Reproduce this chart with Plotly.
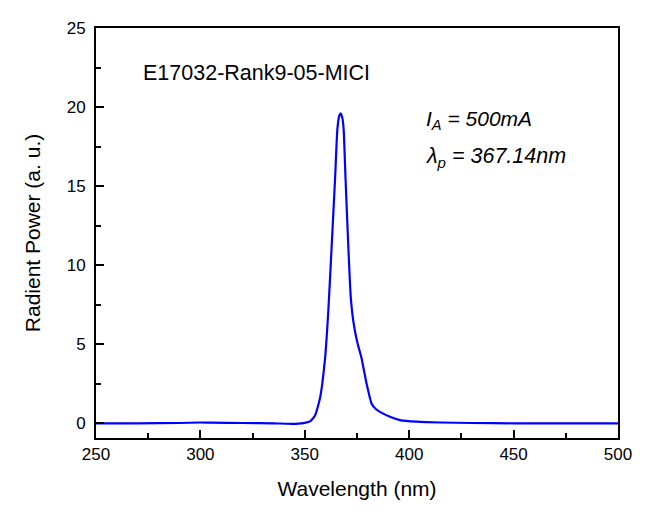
import plotly.graph_objects as go

wavelength = [250, 270, 290, 300, 305, 320, 335, 342, 347, 350, 352.5, 354.9, 357.3, 359.7, 361.3,
              362.9, 364.5, 365.6, 366.5, 367.2, 368.0, 368.6, 369.5, 370.8, 372.0, 373.3, 375.0, 377.2,
              379.6, 382.0, 384.0, 386.0, 390.8, 395.6, 403.6, 415, 430, 450, 475, 500]
power = [0.0, 0.0, 0.02, 0.05, 0.04, 0.02, 0.0, -0.03, -0.02, 0.03, 0.12, 0.5, 1.6, 4.1, 7.2,
         11.3, 15.5, 18.6, 19.45, 19.6, 19.3, 18.6, 15.5, 11.3, 8.0, 6.4, 5.2, 4.1,
         2.5, 1.24, 0.9, 0.72, 0.41, 0.2, 0.1, 0.05, 0.02, 0.0, 0.0, 0.0]

x_ticks = [250, 300, 350, 400, 450, 500]
y_ticks = [0, 5, 10, 15, 20, 25]

fig = go.Figure()
fig.add_trace(go.Scatter(x=wavelength, y=power, mode="lines",
                         line=dict(color="#0000ff", width=2.2, shape="spline", smoothing=0.5),
                         showlegend=False))

font_family = "Liberation Sans, Arial, sans-serif"
axis_common = dict(showline=True, linecolor="black", linewidth=2, mirror=True,
                   ticks="inside", ticklen=8, tickwidth=1.5, tickcolor="black",
                   showgrid=False, zeroline=False,
                   tickfont=dict(family=font_family, size=17, color="black"))

# page body has an 8px offset; figure is sized so that it fills the 648x519 window
L, R, T, B = 88, 30, 11, 81
W, H = 640, 511

fig.update_layout(
    width=W, height=H,
    margin=dict(l=L, r=R, t=T, b=B),
    paper_bgcolor="white", plot_bgcolor="white",
    xaxis=dict(range=[250, 500], tickvals=x_ticks,
               minor=dict(ticks="inside", ticklen=5, tickwidth=1.5, tickcolor="black", dtick=25),
               title=dict(text="Wavelength (nm)", font=dict(family=font_family, size=21, color="black"), standoff=18),
               **axis_common),
    yaxis=dict(range=[-0.93, 25], tickvals=y_ticks, ticklabelstandoff=5,
               minor=dict(ticks="inside", ticklen=5, tickwidth=1.5, tickcolor="black", tickvals=[2.5, 7.5, 12.5, 17.5, 22.5]),
               title=dict(text="Radient Power (a. u.)", font=dict(family=font_family, size=21, color="black"), standoff=20),
               **axis_common),
)

pw, ph = W - L - R, H - T - B
def px(xp, yp):
    # window pixel -> paper coords
    return (xp - 8 - L) / pw, 1 - (yp - 8 - T) / ph

ann = [
    ("E17032-Rank9-05-MICI", 141, 65, 21.5),
    ("<i>I<sub>A</sub> = 500mA</i>", 424, 113, 21),
    ("<i>λ<sub>p</sub> = 367.14nm</i>", 424, 151, 21.5),
]
for text, xp, yp, fs in ann:
    ax, ay = px(xp, yp)
    fig.add_annotation(text=text, x=ax, y=ay, xref="paper", yref="paper", showarrow=False,
                       font=dict(family=font_family, size=fs, color="black"),
                       xanchor="left", yanchor="middle")

fig.write_html("out.html")
